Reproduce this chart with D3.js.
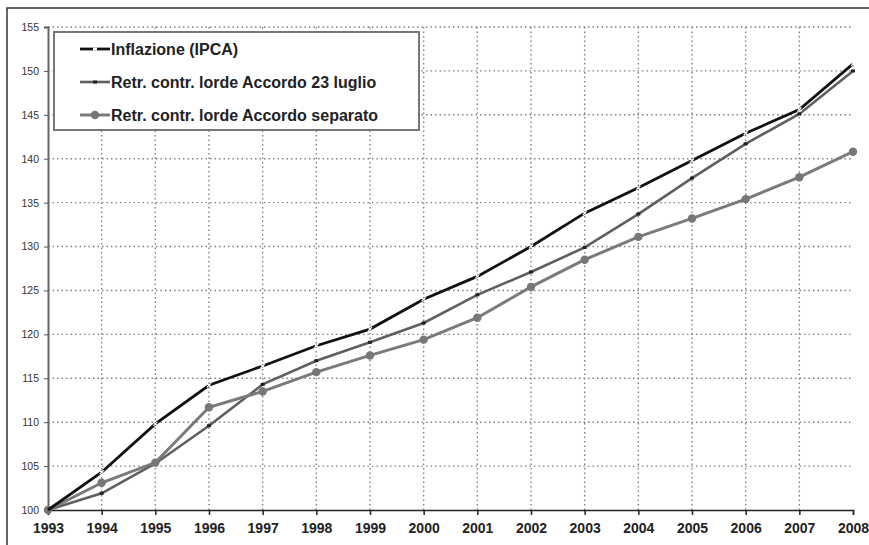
<!DOCTYPE html>
<html>
<head>
<meta charset="utf-8">
<script src="https://cdn.jsdelivr.net/npm/d3@7"></script>
<style>
  body { margin: 0; background: #fff; }
  text { font-family: "Liberation Sans", Arial, sans-serif; }
</style>
</head>
<body>
<div id="chart"></div>
<script>
var years = [1993, 1994, 1995, 1996, 1997, 1998, 1999, 2000, 2001, 2002, 2003, 2004, 2005, 2006, 2007, 2008];
var inflazione = [100, 104.3, 109.8, 114.2, 116.4, 118.7, 120.6, 124.0, 126.6, 130.0, 133.8, 136.7, 139.8, 142.9, 145.6, 150.8];
var accordo23 = [100, 101.9, 105.3, 109.6, 114.3, 117.0, 119.1, 121.3, 124.5, 127.1, 129.9, 133.7, 137.8, 141.7, 145.1, 150.0];
var separato = [100, 103.1, 105.4, 111.7, 113.5, 115.7, 117.6, 119.4, 121.9, 125.4, 128.5, 131.1, 133.2, 135.4, 137.9, 140.8];
var yTicks = [100, 105, 110, 115, 120, 125, 130, 135, 140, 145, 150, 155];
var seriesNames = ["Inflazione (IPCA)", "Retr. contr. lorde Accordo 23 luglio", "Retr. contr. lorde Accordo separato"];

var W = 869, H = 545;
var margin = {top: 27, right: 16, bottom: 35, left: 48};
var width = W - margin.left - margin.right;
var height = H - margin.top - margin.bottom;

var svg = d3.select("#chart").append("svg")
  .attr("width", W)
  .attr("height", H);

// outer frame (only left and top visible)
svg.append("rect")
  .attr("x", 7).attr("y", 8)
  .attr("width", W + 10).attr("height", H + 10)
  .attr("fill", "none")
  .attr("stroke", "#333")
  .attr("stroke-width", 1.5);

var g = svg.append("g")
  .attr("transform", "translate(" + margin.left + "," + margin.top + ")");

var x = d3.scalePoint()
  .domain(years)
  .range([0, width]);

var y = d3.scaleLinear()
  .domain([100, 155])
  .range([height, 0]);

// grid
g.selectAll(".hgrid")
  .data(yTicks.slice(1))
  .enter().append("line")
  .attr("x1", 0).attr("x2", width)
  .attr("y1", function(d) { return y(d); })
  .attr("y2", function(d) { return y(d); })
  .attr("stroke", "#808080")
  .attr("stroke-width", 1.4)
  .attr("stroke-dasharray", "1.5,3");

g.selectAll(".vgrid")
  .data(years.slice(1, -1))
  .enter().append("line")
  .attr("y1", 0).attr("y2", height)
  .attr("x1", function(d) { return x(d); })
  .attr("x2", function(d) { return x(d); })
  .attr("stroke", "#808080")
  .attr("stroke-width", 1.4)
  .attr("stroke-dasharray", "1.5,3");

// y axis
var yAxis = g.append("g")
  .call(d3.axisLeft(y).tickValues(yTicks).tickSize(4).tickPadding(5));
yAxis.select(".domain").attr("stroke", "#666").attr("stroke-width", 2);
yAxis.selectAll(".tick line").attr("stroke", "#555");
yAxis.selectAll("text")
  .style("font-size", "10.5px")
  .attr("fill", "#333");

// x axis
var xAxis = g.append("g")
  .attr("transform", "translate(0," + height + ")")
  .call(d3.axisBottom(x).tickSize(5).tickSizeOuter(5).tickPadding(8));
xAxis.select(".domain").attr("stroke", "#222").attr("stroke-width", 1.5);
xAxis.selectAll(".tick line").attr("stroke", "#222").attr("stroke-width", 1.5);
xAxis.selectAll("text")
  .style("font-size", "14px")
  .style("font-weight", "bold")
  .attr("fill", "#222");

var line = d3.line()
  .x(function(d, i) { return x(years[i]); })
  .y(function(d) { return y(d); });

// accordo 23 luglio
g.append("path")
  .datum(accordo23)
  .attr("d", line)
  .attr("fill", "none")
  .attr("stroke", "#5f5f5f")
  .attr("stroke-width", 2.6);
g.selectAll(".accDot")
  .data(accordo23)
  .enter().append("rect")
  .attr("x", function(d, i) { return x(years[i]) - 2; })
  .attr("y", function(d) { return y(d) - 1.5; })
  .attr("width", 4).attr("height", 3)
  .attr("fill", "#222");

// separato
g.append("path")
  .datum(separato)
  .attr("d", line)
  .attr("fill", "none")
  .attr("stroke", "#7a7a7a")
  .attr("stroke-width", 3);
g.selectAll(".sepDot")
  .data(separato)
  .enter().append("circle")
  .attr("cx", function(d, i) { return x(years[i]); })
  .attr("cy", function(d) { return y(d); })
  .attr("r", 4.2)
  .attr("fill", "#777");

// inflazione
g.append("path")
  .datum(inflazione)
  .attr("d", line)
  .attr("fill", "none")
  .attr("stroke", "#111")
  .attr("stroke-width", 2.8);
g.selectAll(".infDot")
  .data(inflazione.slice(1))
  .enter().append("path")
  .attr("transform", function(d, i) { return "translate(" + x(years[i + 1]) + "," + y(d) + ")"; })
  .attr("d", "M-2,-2L2,2M-2,2L2,-2")
  .attr("stroke", "#fff")
  .attr("stroke-width", 1.2);

// legend
var legend = svg.append("g");
legend.append("rect")
  .attr("x", 54).attr("y", 32)
  .attr("width", 365).attr("height", 98)
  .attr("fill", "#fff")
  .attr("stroke", "#777")
  .attr("stroke-width", 2);

var rows = legend.selectAll(".row")
  .data(seriesNames)
  .enter().append("g")
  .attr("transform", function(d, i) { return "translate(80," + (49 + i * 33) + ")"; });

rows.append("line")
  .attr("x1", 0).attr("x2", 30)
  .attr("stroke", function(d, i) { return ["#111", "#5f5f5f", "#7a7a7a"][i]; })
  .attr("stroke-width", function(d, i) { return [2.8, 2.6, 3][i]; });

rows.filter(function(d, i) { return i === 0; })
  .append("line")
  .attr("x1", 13).attr("x2", 17)
  .attr("stroke", "#fff").attr("stroke-width", 3);
rows.filter(function(d, i) { return i === 1; })
  .append("rect")
  .attr("x", 13).attr("y", -1.5).attr("width", 4).attr("height", 3)
  .attr("fill", "#222");
rows.filter(function(d, i) { return i === 2; })
  .append("circle")
  .attr("cx", 15).attr("r", 4.2)
  .attr("fill", "#777");

rows.append("text")
  .attr("x", 31)
  .attr("dy", "0.35em")
  .style("font-size", "16px")
  .style("font-weight", "bold")
  .attr("fill", "#222")
  .text(function(d) { return d; });
</script>
</body>
</html>
